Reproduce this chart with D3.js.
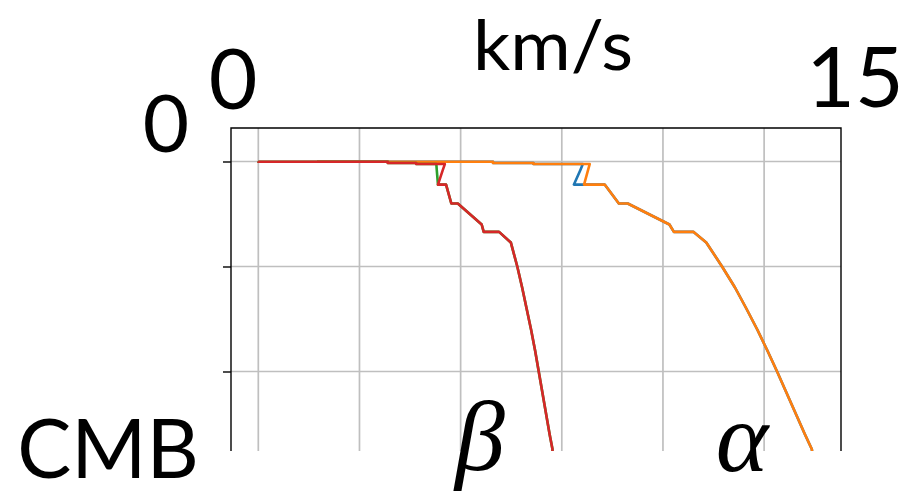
<!DOCTYPE html>
<html>
<head>
<meta charset="utf-8">
<script src="https://cdn.jsdelivr.net/npm/d3@7"></script>
<style>
  html, body { margin: 0; padding: 0; background: #fff; }
  svg { display: block; }
  .lbl { font-family: Lato, "Open Sans", sans-serif; fill: #000; }
  .greek { font-family: "Liberation Serif", "DejaVu Serif", serif; font-style: italic; fill: #000; }
</style>
</head>
<body>
<svg id="chart" width="914" height="495"></svg>
<script>
// Depth (km) of each model node; repeated depths mark discontinuities.
const depth = [0, 3, 3, 15, 15, 24.4, 24.4, 80, 220, 220, 400, 400, 600, 670, 670, 771,
               1000, 1200, 1400, 1600, 1800, 2000, 2200, 2400, 2600, 2741, 2891];

// P-wave speeds (km/s): vertical and horizontal
const vpv = [1.45, 1.45, 5.80, 5.80, 6.80, 6.80, 8.02, 7.96, 7.80, 8.56, 8.91, 9.13, 10.16, 10.27, 10.75, 11.07,
             11.46, 11.78, 12.06, 12.33, 12.58, 12.82, 13.05, 13.28, 13.51, 13.68, 13.72];
const vph = [1.45, 1.45, 5.80, 5.80, 6.80, 6.80, 8.19, 8.15, 8.05, 8.56, 8.91, 9.13, 10.16, 10.27, 10.75, 11.07,
             11.46, 11.78, 12.06, 12.33, 12.58, 12.82, 13.05, 13.28, 13.51, 13.68, 13.72];

// S-wave speeds (km/s): vertical and horizontal
const vsv = [0, 0, 3.20, 3.20, 3.90, 3.90, 4.40, 4.41, 4.44, 4.64, 4.77, 4.93, 5.52, 5.57, 5.95, 6.24,
             6.40, 6.52, 6.63, 6.74, 6.84, 6.93, 7.02, 7.11, 7.20, 7.27, 7.26];
const vsh = [0, 0, 3.20, 3.20, 3.90, 3.90, 4.61, 4.56, 4.44, 4.64, 4.77, 4.93, 5.52, 5.57, 5.95, 6.24,
             6.40, 6.52, 6.63, 6.74, 6.84, 6.93, 7.02, 7.11, 7.20, 7.27, 7.26];

// Grid positions
const speedGrid = [0, 2.5, 5, 7.5, 10, 12.5];
const depthTicks = [0, 1000, 2000];

const series = [
  { name: "vpv", values: vpv, color: "#1f77b4" },
  { name: "vph", values: vph, color: "#ff7f0e" },
  { name: "vsv", values: vsv, color: "#2ca02c" },
  { name: "vsh", values: vsh, color: "#d62728" }
];

const svg = d3.select("#chart");
const plotLeft = 231, plotRight = 841, plotTop = 128, plotBottom = 451;

const x = d3.scaleLinear().domain([-0.675, 14.4]).range([plotLeft, plotRight]);
const y = d3.scaleLinear().domain([-319, 2757]).range([plotTop, plotTop + (2757 + 319) * 0.105]);

svg.append("defs").append("clipPath").attr("id", "plotclip")
  .append("rect").attr("x", plotLeft).attr("y", plotTop)
  .attr("width", plotRight - plotLeft).attr("height", plotBottom - plotTop);

const plot = svg.append("g").attr("clip-path", "url(#plotclip)");

// grid
plot.selectAll("line.vg").data(speedGrid).join("line")
  .attr("class", "vg")
  .attr("x1", d => x(d)).attr("x2", d => x(d))
  .attr("y1", plotTop).attr("y2", plotBottom + 5)
  .attr("stroke", "#bfbfbf").attr("stroke-width", 1.7);
plot.selectAll("line.hg").data(depthTicks).join("line")
  .attr("class", "hg")
  .attr("x1", plotLeft).attr("x2", plotRight)
  .attr("y1", d => y(d)).attr("y2", d => y(d))
  .attr("stroke", "#bfbfbf").attr("stroke-width", 1.7);

// velocity profiles
const line = d3.line()
  .x(d => x(d.v))
  .y(d => y(d.z));

series.forEach(s => {
  const pts = depth.map((z, i) => ({ z: z, v: s.values[i] }));
  plot.append("path")
    .datum(pts)
    .attr("d", line)
    .attr("fill", "none")
    .attr("stroke", s.color)
    .attr("stroke-width", 2.6)
    .attr("stroke-linejoin", "round");
});

// frame: top, left and right spines
const frame = svg.append("g").attr("stroke", "#000").attr("stroke-width", 1.4).attr("fill", "none");
frame.append("path").attr("d", `M${plotLeft},${plotBottom}V${plotTop}H${plotRight}V${plotBottom}`);

// left depth ticks
const yAxis = d3.axisLeft(y).tickValues(depthTicks).tickSize(8).tickFormat("");
const ya = svg.append("g").attr("transform", `translate(${plotLeft},0)`).call(yAxis);
ya.select(".domain").remove();
ya.selectAll(".tick line").attr("stroke", "#000").attr("stroke-width", 1.4);

// labels
svg.append("text").attr("class", "lbl").attr("x", 553).attr("y", 70)
  .attr("text-anchor", "middle").attr("font-size", 70)
  .attr("textLength", 160).attr("lengthAdjust", "spacingAndGlyphs").text("km/s");
svg.append("text").attr("class", "lbl").attr("x", 233).attr("y", 109)
  .attr("text-anchor", "middle").attr("font-size", 84).text("0");
svg.append("text").attr("class", "lbl").attr("x", 855).attr("y", 107)
  .attr("text-anchor", "middle").attr("font-size", 84).text("15");
svg.append("text").attr("class", "lbl").attr("x", 166).attr("y", 152)
  .attr("text-anchor", "middle").attr("font-size", 80).text("0");
svg.append("text").attr("class", "lbl").attr("x", 108).attr("y", 478)
  .attr("text-anchor", "middle").attr("font-size", 81).text("CMB");
svg.append("text").attr("class", "greek").attr("x", 480).attr("y", 470)
  .attr("text-anchor", "middle").attr("font-size", 100).text("β");
svg.append("text").attr("class", "greek").attr("x", 742).attr("y", 471)
  .attr("text-anchor", "middle").attr("font-size", 100).text("α");
</script>
</body>
</html>
